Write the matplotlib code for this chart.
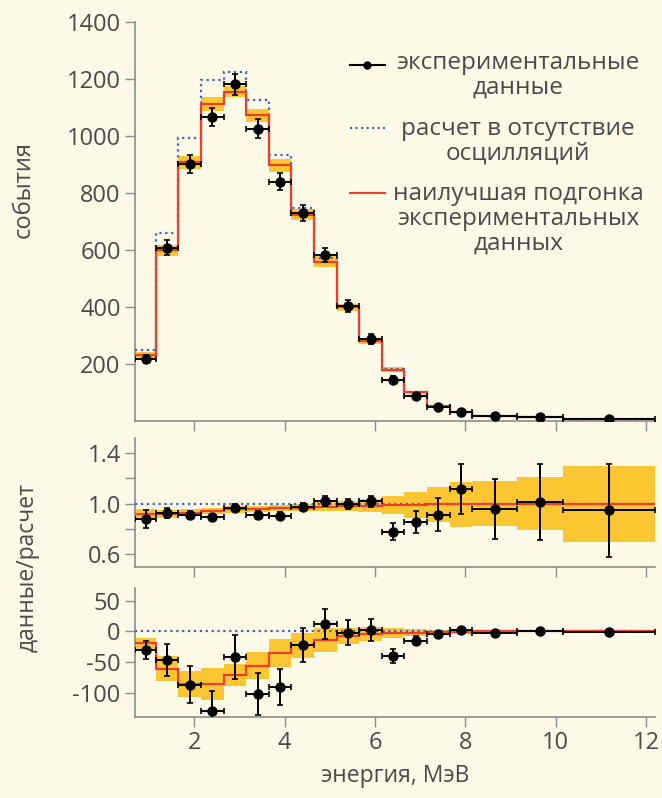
import numpy as np
import matplotlib.pyplot as plt

plt.rcParams['font.family'] = ['Open Sans', 'DejaVu Sans']
plt.rcParams['font.size'] = 17
plt.rcParams['axes.unicode_minus'] = False

# Energy bins, MeV
edges = np.array([0.7, 1.15, 1.65, 2.15, 2.65, 3.15, 3.65, 4.15, 4.65, 5.15, 5.65,
                  6.15, 6.65, 7.15, 7.65, 8.15, 9.15, 10.15, 12.2])

# Events per bin
no_osc = [250, 659, 993, 1194, 1225, 1127, 931, 746, 571, 405, 284, 182, 103, 54, 30, 19, 13, 8]
best_fit = [231, 598, 907, 1112, 1155, 1072, 896, 724, 558, 399, 281, 180, 101, 53, 30, 19, 13, 8]
fit_band = [10, 20, 22, 25, 18, 22, 23, 20, 19, 13, 11, 8, 6, 4, 3, 2, 2, 1]
data = [217, 607, 901, 1066, 1180, 1025, 839, 728, 583, 403, 287, 145, 88, 50, 33, 18, 13, 8]
data_err = [15, 26, 30, 33, 36, 34, 30, 28, 25, 21, 18, 12, 9, 7, 6, 5, 4, 3]

# Data / no-oscillation prediction
ratio = [0.88, 0.93, 0.913, 0.895, 0.97, 0.913, 0.906, 0.974, 1.024, 1.0, 1.018,
         0.78, 0.856, 0.913, 1.115, 0.958, 1.013, 0.947]
ratio_err = [0.07, 0.04, 0.03, 0.02, 0.03, 0.03, 0.03, 0.03, 0.04, 0.04, 0.04,
             0.065, 0.09, 0.13, 0.2, 0.24, 0.3, 0.365]
ratio_fit = [0.92, 0.92, 0.93, 0.94, 0.955, 0.96, 0.965, 0.97, 0.975, 0.98, 0.985,
             0.99, 0.99, 0.995, 0.995, 1.0, 1.0, 1.0]
ratio_band = [0.035, 0.03, 0.03, 0.025, 0.025, 0.025, 0.025, 0.03, 0.035, 0.04, 0.05,
              0.07, 0.105, 0.14, 0.18, 0.18, 0.21, 0.3]

# Data - no-oscillation prediction
diff = [-30, -47, -87, -131, -42, -102, -91, -22, 12, -2, 3, -40, -15, -5, 2, -2, 0, -1]
diff_err = [15, 26, 30, 33, 36, 34, 30, 28, 25, 21, 18, 12, 8, 6, 4, 3, 2, 2]
diff_fit = [-19, -61, -86, -86, -72, -56, -36, -23, -14, -7, -4, -3, -2, -1, -1, 0, 0, 0]
diff_band = [9, 20, 22, 26, 18, 22, 23, 20, 19, 13, 11, 8, 6, 4, 3, 2, 1, 1]

centers = (edges[:-1] + edges[1:]) / 2
half_w = np.diff(edges) / 2

bg = '#fdfae8'
yellow = '#fcc633'
red = '#ef3f2c'
blue = '#3d62c6'
grey = '#8c8c8c'
txt = '#4a4a4a'

fig = plt.figure(figsize=(6.62, 7.98), dpi=100, facecolor=bg)
left, width = 0.2033, 0.7866
ax1 = fig.add_axes([left, 0.4724, width, 0.5004])
ax2 = fig.add_axes([left, 0.2895, width, 0.1617])
ax3 = fig.add_axes([left, 0.1015, width, 0.1617])


def band(ax, center, half):
    c = np.asarray(center, float)
    h = np.asarray(half, float)
    ax.stairs(c + h, edges, baseline=c - h, fill=True, color=yellow, lw=0, zorder=1)


def points(ax, y, err, ms=6.5):
    ax.errorbar(centers, y, xerr=half_w, yerr=err, fmt='o', color='black',
                ms=ms, elinewidth=1.4, capsize=2, capthick=1.2, zorder=5)


# top: event spectrum
band(ax1, best_fit, fit_band)
ax1.stairs(no_osc, edges, baseline=None, color=blue, ls=':', lw=1.6, zorder=3)
ax1.stairs(best_fit, edges, baseline=None, color=red, lw=1.6, zorder=4)
points(ax1, data, data_err)
ax1.set_ylim(0, 1400)
ax1.set_yticks(range(200, 1401, 200))

# middle: ratio
band(ax2, ratio_fit, ratio_band)
ax2.axhline(1.0, color=blue, ls=':', lw=1.6, zorder=3)
ax2.stairs(ratio_fit, edges, baseline=None, color=red, lw=1.6, zorder=4)
points(ax2, ratio, ratio_err)
ax2.set_ylim(0.5, 1.52)
ax2.set_yticks([0.6, 0.8, 1.0, 1.2, 1.4])
ax2.set_yticklabels(['0.6', '', '1.0', '', '1.4'])

# bottom: difference
band(ax3, diff_fit, diff_band)
ax3.axhline(0, color=blue, ls=':', lw=1.6, zorder=3)
ax3.stairs(diff_fit, edges, baseline=None, color=red, lw=1.6, zorder=4)
points(ax3, diff, diff_err)
ax3.set_ylim(-140, 71)
ax3.set_yticks([-100, -50, 0, 50])

for ax in (ax1, ax2, ax3):
    ax.set_facecolor(bg)
    ax.set_xlim(0.68, 12.2)
    ax.set_xticks(range(2, 13, 2))
    for s in ('top', 'right'):
        ax.spines[s].set_visible(False)
    for s in ('left', 'bottom'):
        ax.spines[s].set_color(grey)
        ax.spines[s].set_linewidth(1.2)
    ax.tick_params(direction='out', length=7, width=1, color=grey,
                   labelcolor=txt, labelsize=17, pad=3)
ax1.tick_params(axis='x', labelbottom=False)
ax2.tick_params(axis='x', labelbottom=False)

fig.text(24 / 662, 1 - 190 / 798, 'события', rotation=90, ha='center', va='center',
         color=txt, fontsize=17)
fig.text(28 / 662, 1 - 568 / 798, 'данные/расчет', rotation=90, ha='center',
         va='center', color=txt, fontsize=16.5)
fig.text(395 / 662, 1 - 776 / 798, 'энергия, МэВ', ha='center', va='center',
         color=txt, fontsize=16.5)

# key
def fx(px):
    return px / 662


def fy(py):
    return 1 - py / 798


fig.add_artist(plt.Line2D([fx(350), fx(385)], [fy(65), fy(65)], color='black', lw=1.5))
fig.add_artist(plt.Line2D([fx(367)], [fy(65)], marker='o', ms=5, color='black'))
fig.add_artist(plt.Line2D([fx(350), fx(385)], [fy(128), fy(128)], color=blue, ls=':', lw=1.5))
fig.add_artist(plt.Line2D([fx(350), fx(385)], [fy(193), fy(193)], color=red, lw=1.5))
labels = [('экспериментальные\nданные', 62),
          ('расчет в отсутствие\nосцилляций', 128),
          ('наилучшая подгонка\nэкспериментальных\nданных', 193)]
for lab, y in labels:
    fig.text(fx(518), fy(y - 11), lab, ha='center', va='top', multialignment='center',
             color=txt, fontsize=17.5, linespacing=1.05)

fig.savefig('out.png', dpi=100, facecolor=bg)
